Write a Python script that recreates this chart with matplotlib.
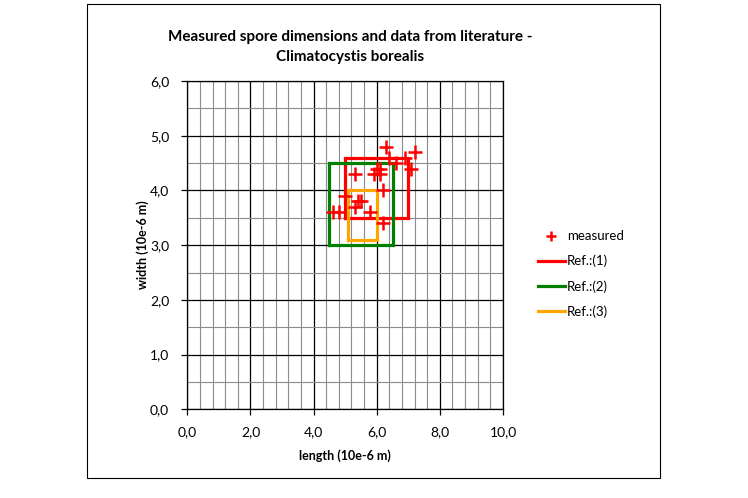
import matplotlib
matplotlib.use("Agg")
import matplotlib.pyplot as plt
from matplotlib.ticker import MultipleLocator, FuncFormatter
from matplotlib.patches import Rectangle

# ---- data ----
meas_length = [6.3, 7.2, 6.9, 6.4, 6.6, 7.1, 5.9, 6.0, 6.1, 6.1, 5.3, 6.2, 5.0, 5.4, 5.5, 5.3, 5.8, 4.6, 4.8, 6.2]
meas_width  = [4.8, 4.7, 4.6, 4.6, 4.5, 4.4, 4.3, 4.4, 4.3, 4.4, 4.3, 4.0, 3.9, 3.8, 3.8, 3.7, 3.6, 3.6, 3.6, 3.4]

ref_names  = ["Ref.:(1)", "Ref.:(2)", "Ref.:(3)"]
ref_len_lo = [5.0, 4.5, 5.1]
ref_len_hi = [7.0, 6.5, 6.0]
ref_wid_lo = [3.5, 3.0, 3.1]
ref_wid_hi = [4.6, 4.5, 4.0]
ref_colors = ["#ff0000", "#008000", "#ffa500"]

title = "Measured spore dimensions and data from literature -\nClimatocystis borealis"
xlabel = "length (10e-6 m)"
ylabel = "width (10e-6 m)"

plt.rcParams['font.family'] = ['Lato', 'DejaVu Sans']

fig = plt.figure(figsize=(7.48, 4.98), dpi=100)
fig.patch.set_facecolor("white")
# outer chart border
fig.patches.append(Rectangle((87/748, 1-478/498), (660-87)/748, (478-4)/498,
                             transform=fig.transFigure, fill=False,
                             edgecolor="black", linewidth=0.8))

ax = fig.add_axes([187.3/748, 1-409.3/498, (503-187.3)/748, (409.3-81)/498])
ax.set_xlim(0, 10)
ax.set_ylim(0, 6)

ax.xaxis.set_major_locator(MultipleLocator(2))
ax.xaxis.set_minor_locator(MultipleLocator(0.4))
ax.yaxis.set_major_locator(MultipleLocator(1))
ax.yaxis.set_minor_locator(MultipleLocator(0.5))
fmt = FuncFormatter(lambda v, p: f"{v:.1f}".replace(".", ","))
ax.xaxis.set_major_formatter(fmt)
ax.yaxis.set_major_formatter(fmt)

ax.grid(which="minor", color="#8c8c8c", linewidth=0.8)
ax.grid(which="major", color="black", linewidth=0.9)
ax.set_axisbelow(True)
ax.tick_params(which="minor", length=0)
ax.tick_params(which="major", direction="out", length=4, width=0.9, labelsize=10)
ax.tick_params(axis="x", which="major", pad=8)
ax.tick_params(axis="y", which="major", pad=9)
for s in ax.spines.values():
    s.set_color("black")
    s.set_linewidth(0.9)

# reference rectangles
for name, x0, x1, y0, y1, c, z in zip(ref_names, ref_len_lo, ref_len_hi, ref_wid_lo, ref_wid_hi,
                                      ref_colors, [3, 4, 5]):
    ax.plot([x0, x1, x1, x0, x0], [y0, y0, y1, y1, y0], color=c, linewidth=2.3,
            label=name, zorder=z, solid_joinstyle="miter")

ax.plot(meas_length, meas_width, linestyle="none", marker="+", markersize=9.5,
        markeredgewidth=1.8, color="#ff0000", label="measured", zorder=6)

handles, labels = ax.get_legend_handles_labels()
order = [3, 0, 1, 2]
leg = fig.legend([handles[i] for i in order], [labels[i] for i in order],
                 loc="center left", bbox_to_anchor=(533/748, 1-274/498),
                 frameon=False, fontsize=9.5, handlelength=2.0, handletextpad=0.15,
                 labelspacing=0.95, borderaxespad=0, markerscale=0.7)

fig.text(350/748, 1-47/498, title, ha="center", va="center", fontsize=11,
         fontweight="bold", linespacing=1.55)
fig.text(345/748, 1-456/498, xlabel, ha="center", va="center", fontsize=9, fontweight="bold")
fig.text(143/748, 1-245/498, ylabel, ha="center", va="center", fontsize=9,
         fontweight="bold", rotation=90)

fig.savefig("out.png", dpi=100)
